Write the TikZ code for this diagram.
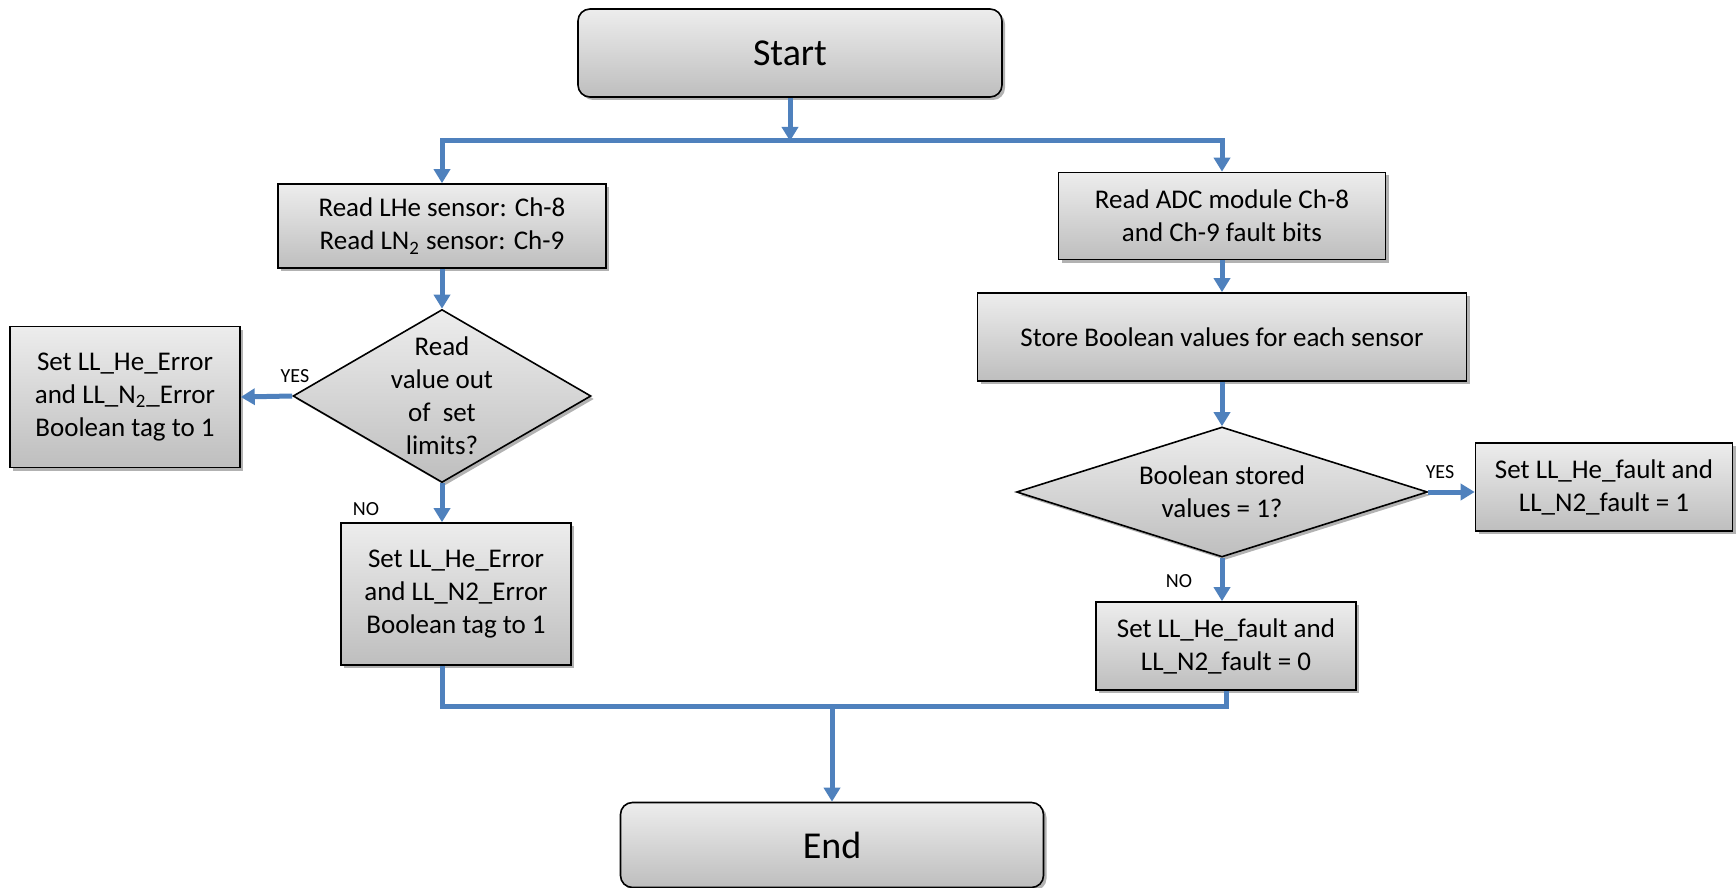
\documentclass[tikz,border=0pt]{standalone}
\usepackage{fontspec}
\setmainfont{Carlito}
\usetikzlibrary{shapes.geometric,arrows.meta,shadows}
\definecolor{flowblue}{HTML}{4F81BD}
\definecolor{boxtop}{HTML}{EDEDED}
\definecolor{boxbot}{HTML}{BEBEBE}
\tikzset{
  box/.style={draw=black, line width=0.8pt, top color=boxtop, bottom color=boxbot,
    align=center, inner sep=0pt, font=\fontsize{13.5}{16.5}\selectfont,
    drop shadow={shadow xshift=1.5pt, shadow yshift=-1.5pt, opacity=0.3, fill=black}},
  terminal/.style={box, rounded corners=6pt, font=\fontsize{19}{22}\selectfont},
  decision/.style={box, diamond},
  question/.style={align=center, font=\fontsize{13.5}{16.5}\selectfont},
  flow/.style={flowblue, line width=2.5pt},
  flowarrow/.style={flow, -{Triangle[width=8pt,length=7pt]}},
  tag/.style={font=\fontsize{10}{12}\selectfont}
}
\begin{document}
\begin{tikzpicture}[x=0.5pt,y=-0.5pt]
    \useasboundingbox (0,0) rectangle (1736,888);

    % Inizio e fine
    \node[terminal, minimum width=212pt, minimum height=44pt] (start) at (790,53) {Start};
    \node[terminal, minimum width=211.5pt, minimum height=42.5pt] (end) at (832,845) {End};

    % Ramo sinistro: lettura sensori
    \node[box, minimum width=164pt, minimum height=42pt] (readlvl) at (442,226)
        {Read LHe sensor: Ch-8\\Read LN\textsubscript{2} sensor: Ch-9};
    \node[decision, minimum width=149pt, minimum height=86.5pt,
        label={[question]center:Read\\value out\\of \ set\\limits?}] (limits) at (442,396) {};
    \node[box, minimum width=115pt, minimum height=70.5pt] (erryes) at (125,397)
        {Set LL\_He\_Error\\and LL\_N\textsubscript{2}\_Error\\Boolean tag to 1};
    \node[box, minimum width=115pt, minimum height=71pt] (errno) at (456,594)
        {Set LL\_He\_Error\\and LL\_N2\_Error\\Boolean tag to 1};

    % Ramo destro: bit di guasto
    \node[box, minimum width=163.5pt, minimum height=43.5pt] (readadc) at (1222,216)
        {Read ADC module Ch-8\\and Ch-9 fault bits};
    \node[box, minimum width=244.5pt, minimum height=44pt] (store) at (1222,337)
        {Store Boolean values for each sensor};
    \node[decision, minimum width=205.5pt, minimum height=65pt,
        label={[question]center:Boolean stored\\values = 1?}] (stored) at (1222,492) {};
    \node[box, minimum width=128.5pt, minimum height=44pt] (faultyes) at (1604,487)
        {Set LL\_He\_fault and\\LL\_N2\_fault = 1};
    \node[box, minimum width=130pt, minimum height=44pt] (faultno) at (1226,646)
        {Set LL\_He\_fault and\\LL\_N2\_fault = 0};

    % Etichette SI/NO
    \node[tag] (yesl) at (295,376) {YES};
    \node[tag] (nol) at (366,509) {NO};
    \node[tag] (yesr) at (1440,472) {YES};
    \node[tag] (nor) at (1179,581) {NO};

    % Connettori
    \coordinate (split) at (790,141);
    \coordinate (join) at (832,706);
    \draw[flowarrow] (start) -- (split);
    \draw[flowarrow] (split) -| (readlvl);
    \draw[flowarrow] (split) -| (readadc);
    \draw[flowarrow] (readlvl) -- (limits);
    \draw[flowarrow] (limits.west) -- (erryes.east);
    \draw[flowarrow] (limits.south) -- (limits.south |- errno.north);
    \draw[flowarrow] (readadc) -- (store);
    \draw[flowarrow] (store) -- (stored);
    \draw[flowarrow] (stored.east) -- (stored.east -| faultyes.west);
    \draw[flowarrow] (stored.south) -- (stored.south |- faultno.north);
    \draw[flow] (limits.south |- errno.south) |- (join);
    \draw[flow] (faultno.south) |- (join);
    \draw[flowarrow] (join) -- (end);
\end{tikzpicture}
\end{document}
